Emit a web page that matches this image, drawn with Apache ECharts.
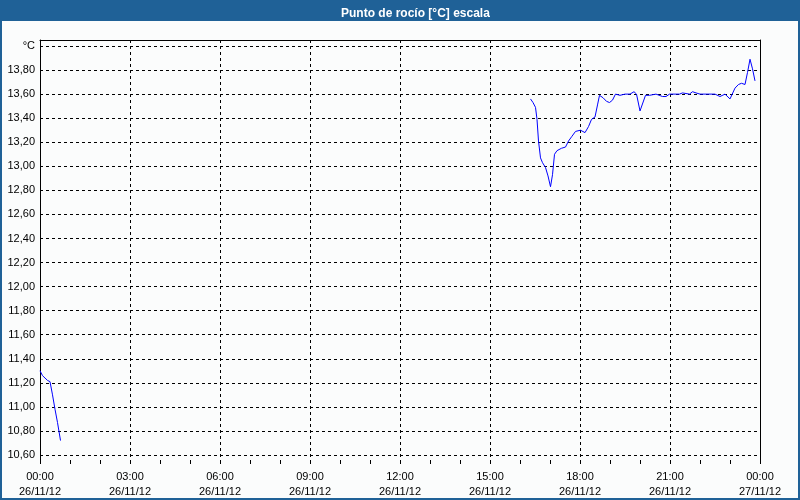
<!DOCTYPE html>
<html>
<head>
<meta charset="utf-8">
<script src="https://cdn.jsdelivr.net/npm/echarts@6/dist/echarts.min.js"></script>
<style>
  html, body { margin: 0; padding: 0; }
  #frame { position: relative; width: 800px; height: 500px; background: #1f6197; overflow: hidden; }
  #panel { position: absolute; left: 2px; top: 21px; width: 796px; height: 477px; background: #fbfcfc; }
  #chart { position: absolute; left: 0; top: 0; width: 800px; height: 500px; }
</style>
</head>
<body>
<div id="frame"><div id="panel"></div><div id="chart"></div></div>
<script>
// ---- data ----
const titleText = 'Punto de rocío [°C] escala';
const unitLabel = '°C';
const yTicks = [10.6, 10.8, 11.0, 11.2, 11.4, 11.6, 11.8, 12.0, 12.2, 12.4, 12.6, 12.8, 13.0, 13.2, 13.4, 13.6, 13.8, 14.0];
const xTickHours = [0, 3, 6, 9, 12, 15, 18, 21, 24];
const xTickDates = ['26/11/12', '26/11/12', '26/11/12', '26/11/12', '26/11/12', '26/11/12', '26/11/12', '26/11/12', '27/11/12'];

const morningTimes = ['00:00', '00:05', '00:10', '00:15', '00:20', '00:25', '00:30', '00:35', '00:41'];
const morningValues = [11.30, 11.26, 11.24, 11.22, 11.21, 11.10, 10.98, 10.87, 10.72];

const eveningTimes = ['16:21', '16:26', '16:31', '16:34', '16:37', '16:41', '16:45', '16:51', '16:56', '17:01',
  '17:05', '17:09', '17:14', '17:23', '17:31', '17:37', '17:44', '17:51', '18:01', '18:10',
  '18:17', '18:23', '18:30', '18:35', '18:39', '18:46', '18:53', '18:59', '19:05', '19:11',
  '19:20', '19:30', '19:40', '19:48', '19:53', '20:00', '20:11', '20:19', '20:32', '20:45',
  '20:52', '20:59', '21:12', '21:19', '21:25', '21:39', '21:45', '21:52', '22:00', '22:10',
  '22:20', '22:30', '22:40', '22:50', '23:00', '23:10', '23:17', '23:23', '23:30', '23:35',
  '23:40', '23:45', '23:50'];
const eveningValues = [13.56, 13.53, 13.49, 13.39, 13.21, 13.07, 13.03, 12.99, 12.92, 12.83,
  12.93, 13.10, 13.13, 13.15, 13.16, 13.21, 13.25, 13.29, 13.30, 13.28,
  13.33, 13.39, 13.41, 13.51, 13.59, 13.57, 13.54, 13.53, 13.55, 13.60,
  13.59, 13.60, 13.60, 13.62, 13.60, 13.46, 13.59, 13.59, 13.60, 13.58,
  13.58, 13.60, 13.60, 13.60, 13.61, 13.60, 13.62, 13.61, 13.60, 13.60,
  13.60, 13.60, 13.58, 13.60, 13.56, 13.65, 13.68, 13.69, 13.68, 13.78,
  13.89, 13.81, 13.71];

// ---- helpers ----
function toHours(t) { const p = t.split(':'); return +p[0] + (+p[1]) / 60; }
function pairs(times, vals) { return times.map((t, i) => [toHours(t), vals[i]]); }
function pad(n) { return (n < 10 ? '0' : '') + n; }

const labelFont = { fontFamily: 'Liberation Sans', fontSize: 11, color: '#000' };
const dashed = { color: '#000', type: [3, 3], width: 1 };

const chart = echarts.init(document.getElementById('chart'), null, { renderer: 'canvas' });
chart.setOption({
  animation: false,
  backgroundColor: 'transparent',
  title: {
    text: titleText,
    left: 336,
    top: 3,
    textStyle: { color: '#fff', fontFamily: 'Liberation Sans', fontWeight: 'bold', fontSize: 12 }
  },
  grid: { left: 40, right: 40, top: 40, bottom: 40, containLabel: false },
  xAxis: [{
    type: 'value', min: 0, max: 24, interval: 3,
    axisLine: { show: false },
    axisTick: { show: true, length: 4, lineStyle: { color: '#000' } },
    minorTick: { show: true, splitNumber: 3, length: 4, lineStyle: { color: '#000' } },
    splitLine: { show: true, lineStyle: dashed },
    axisLabel: Object.assign({}, labelFont, {
      margin: 9, lineHeight: 15,
      formatter: function (v) {
        const i = xTickHours.indexOf(v);
        return pad(v % 24) + ':00\n' + (i >= 0 ? xTickDates[i] : '');
      }
    })
  }, {
    type: 'value', min: 0, max: 24, position: 'top',
    axisLine: { show: true, onZero: false, lineStyle: { color: '#000' } },
    axisTick: { show: false }, axisLabel: { show: false }, splitLine: { show: false }
  }],
  yAxis: [{
    type: 'value', min: 10.5585, max: 14.0499,
    axisLine: { show: true, onZero: false, lineStyle: { color: '#000' } },
    axisTick: { show: false, customValues: yTicks },
    splitLine: { show: true, lineStyle: dashed },
    axisLabel: Object.assign({}, labelFont, {
      margin: 5,
      customValues: yTicks,
      formatter: function (v) {
        if (Math.abs(v - 14) < 1e-6) return unitLabel;
        return v.toFixed(2).replace('.', ',');
      }
    })
  }, {
    type: 'value', min: 10.5585, max: 14.0499, position: 'right',
    axisLine: { show: true, onZero: false, lineStyle: { color: '#000' } },
    axisTick: { show: false }, axisLabel: { show: false }, splitLine: { show: false }
  }],
  series: [{
    type: 'line', data: pairs(morningTimes, morningValues),
    showSymbol: false, symbol: 'none',
    lineStyle: { color: '#0000ff', width: 1 }
  }, {
    type: 'line', data: pairs(eveningTimes, eveningValues),
    showSymbol: false, symbol: 'none',
    lineStyle: { color: '#0000ff', width: 1 }
  }]
});
</script>
</body>
</html>
